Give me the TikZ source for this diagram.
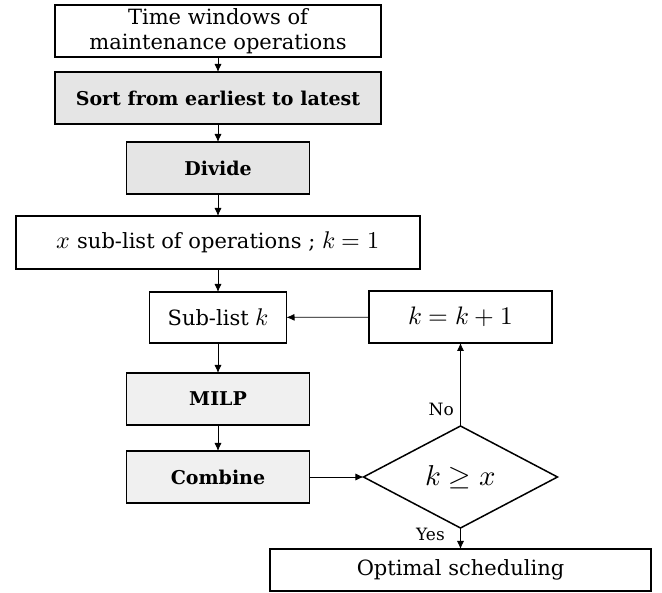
\documentclass[tikz,border=0pt]{standalone}
\usepackage{fontspec}
\usepackage{unicode-math}
\setmainfont{DejaVu Serif}
\setmathfont{Latin Modern Math}[Scale=1.15]
\usetikzlibrary{positioning,shapes.geometric,arrows.meta}

\begin{document}
\begin{tikzpicture}[x=1pt, y=1pt, font=\fontsize{21}{25}\selectfont,
    box/.style = {draw, line width=1.5pt, minimum height=52pt, inner sep=0pt, outer sep=0pt, align=center},
    proc/.style = {box, fill=black!10, font=\fontsize{19}{23}\selectfont\bfseries},
    decide/.style = {draw, line width=1.5pt, diamond, minimum width=194pt, minimum height=102pt, inner sep=0pt, outer sep=0pt},
    flow/.style = {-{Latex[length=8pt,width=7pt]}, line width=0.8pt},
    tag/.style = {font=\fontsize{17}{20}\selectfont}]
    \useasboundingbox (0,0) rectangle (662,-593);
    % main column
    \node[box, minimum width=326pt] (time) at (218,-31) {Time windows of\\maintenance operations};
    \node[proc, minimum width=326pt] (sort) [below=15pt of time] {Sort from earliest to latest};
    \node[proc, minimum width=183pt] (divide) [below=18pt of sort] {Divide};
    \node[box, minimum width=404pt, minimum height=53pt] (sublists) [below=22pt of divide] {$x$ sub-list of operations ; $k=1$};
    \node[box, minimum width=137pt, minimum height=51pt] (sublist) [below=23pt of sublists] {Sub-list $k$};
    \node[proc, minimum width=183pt, fill=black!6] (milp) [below=30pt of sublist] {MILP};
    \node[proc, minimum width=183pt, fill=black!6] (combine) [below=26pt of milp] {Combine};
    % loop on the right
    \node[decide] (check) [right=54pt of combine] {\fontsize{25}{27}\selectfont$k \geq x$};
    \node[box, minimum width=183pt] (incr) [above=83pt of check] {\fontsize{22}{24}\selectfont$k = k + 1$};
    \node[box, minimum width=381pt, minimum height=42pt] (optimal) [below=21pt of check] {Optimal scheduling};
    \path[flow]
    (time) edge (sort)
    (sort) edge (divide)
    (divide) edge (sublists)
    (sublists) edge (sublist)
    (sublist) edge (milp)
    (milp) edge (combine)
    (combine) edge (check)
    (check.north) edge node[tag, pos=0.2, left=3pt] {No} (incr)
    (check.south) edge node[tag, pos=0.3, left=12pt] {Yes} (optimal)
    (incr) edge (sublist);
\end{tikzpicture}
\end{document}
